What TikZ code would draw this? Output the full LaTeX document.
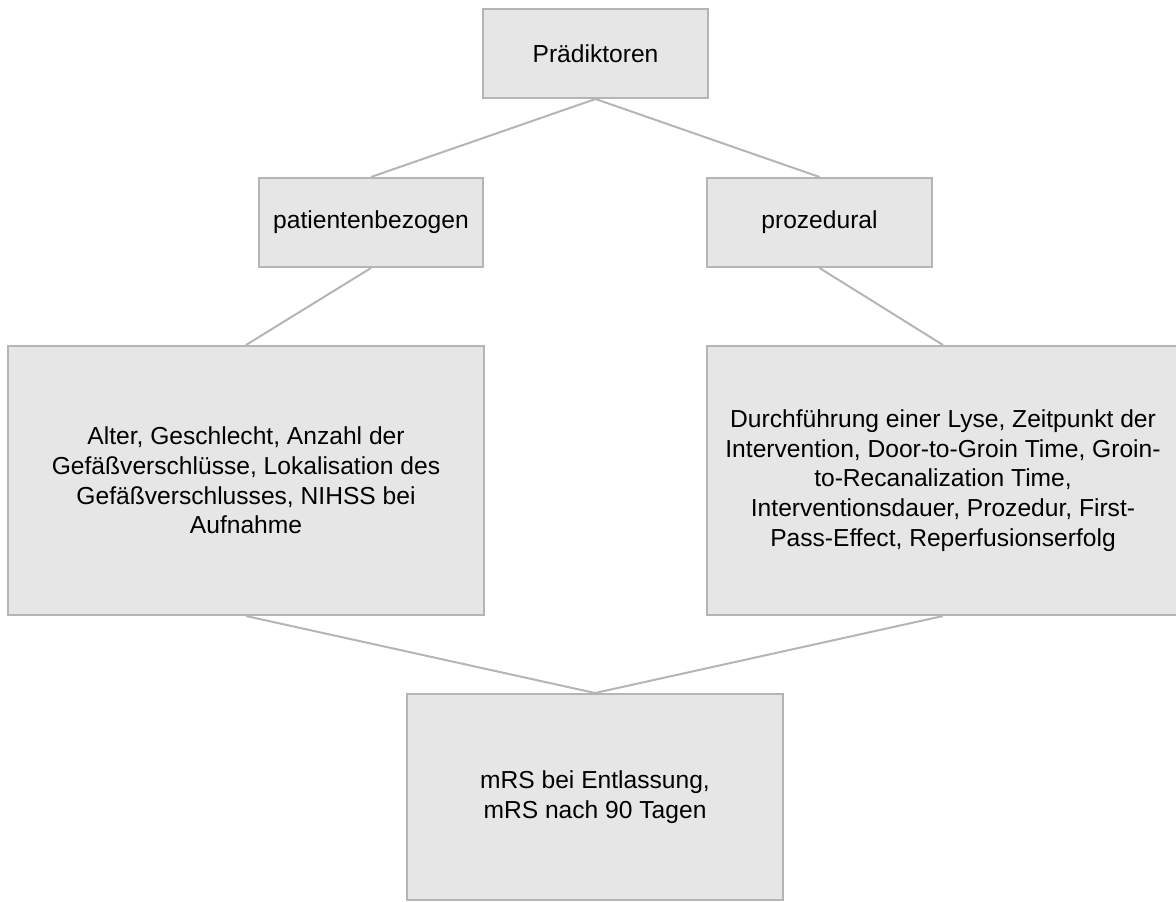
\documentclass[tikz,border=0pt]{standalone}
\usepackage{fontspec}
\setmainfont{Liberation Sans}
\definecolor{boxfill}{HTML}{E6E6E6}
\definecolor{bordergray}{HTML}{B5B5B5}
\begin{document}
\begin{tikzpicture}[x=1pt,y=-1pt,
  box/.style={draw=bordergray, line width=2pt, fill=boxfill, inner sep=0pt,
    align=center, font=\fontsize{24.6}{29.8}\selectfont},
  link/.style={draw=bordergray, line width=2pt}]
\useasboundingbox (0,0) rectangle (1176,902);
\node[box, minimum width=225pt, minimum height=89pt] (top) at (595.5,53.5) {Prädiktoren};
\node[box, minimum width=224pt, minimum height=89pt] (pat) at (371,222.5) {patientenbezogen};
\node[box, minimum width=225pt, minimum height=89pt] (proz) at (819.5,222.5) {prozedural};
\node[box, minimum width=476pt, minimum height=269pt] (left) at (246,480.5)
  {Alter, Geschlecht, Anzahl der\\Gefäßverschlüsse, Lokalisation des\\Gefäßverschlusses, NIHSS bei\\Aufnahme};
\node[box, minimum width=472pt, minimum height=269pt] (right) at (943,480.5)
  {Durchführung einer Lyse, Zeitpunkt der\\Intervention, Door-to-Groin Time, Groin-\\to-Recanalization Time,\\Interventionsdauer, Prozedur, First-\\Pass-Effect, Reperfusionserfolg};
\node[box, minimum width=376pt, minimum height=206pt] (out) at (595,797)
  {mRS bei Entlassung,\\mRS nach 90 Tagen};
\draw[link] (top.south) -- (pat.north);
\draw[link] (top.south) -- (proz.north);
\draw[link] (pat.south) -- (left.north);
\draw[link] (proz.south) -- (right.north);
\draw[link] (left.south) -- (out.north);
\draw[link] (right.south) -- (out.north);
\end{tikzpicture}
\end{document}
